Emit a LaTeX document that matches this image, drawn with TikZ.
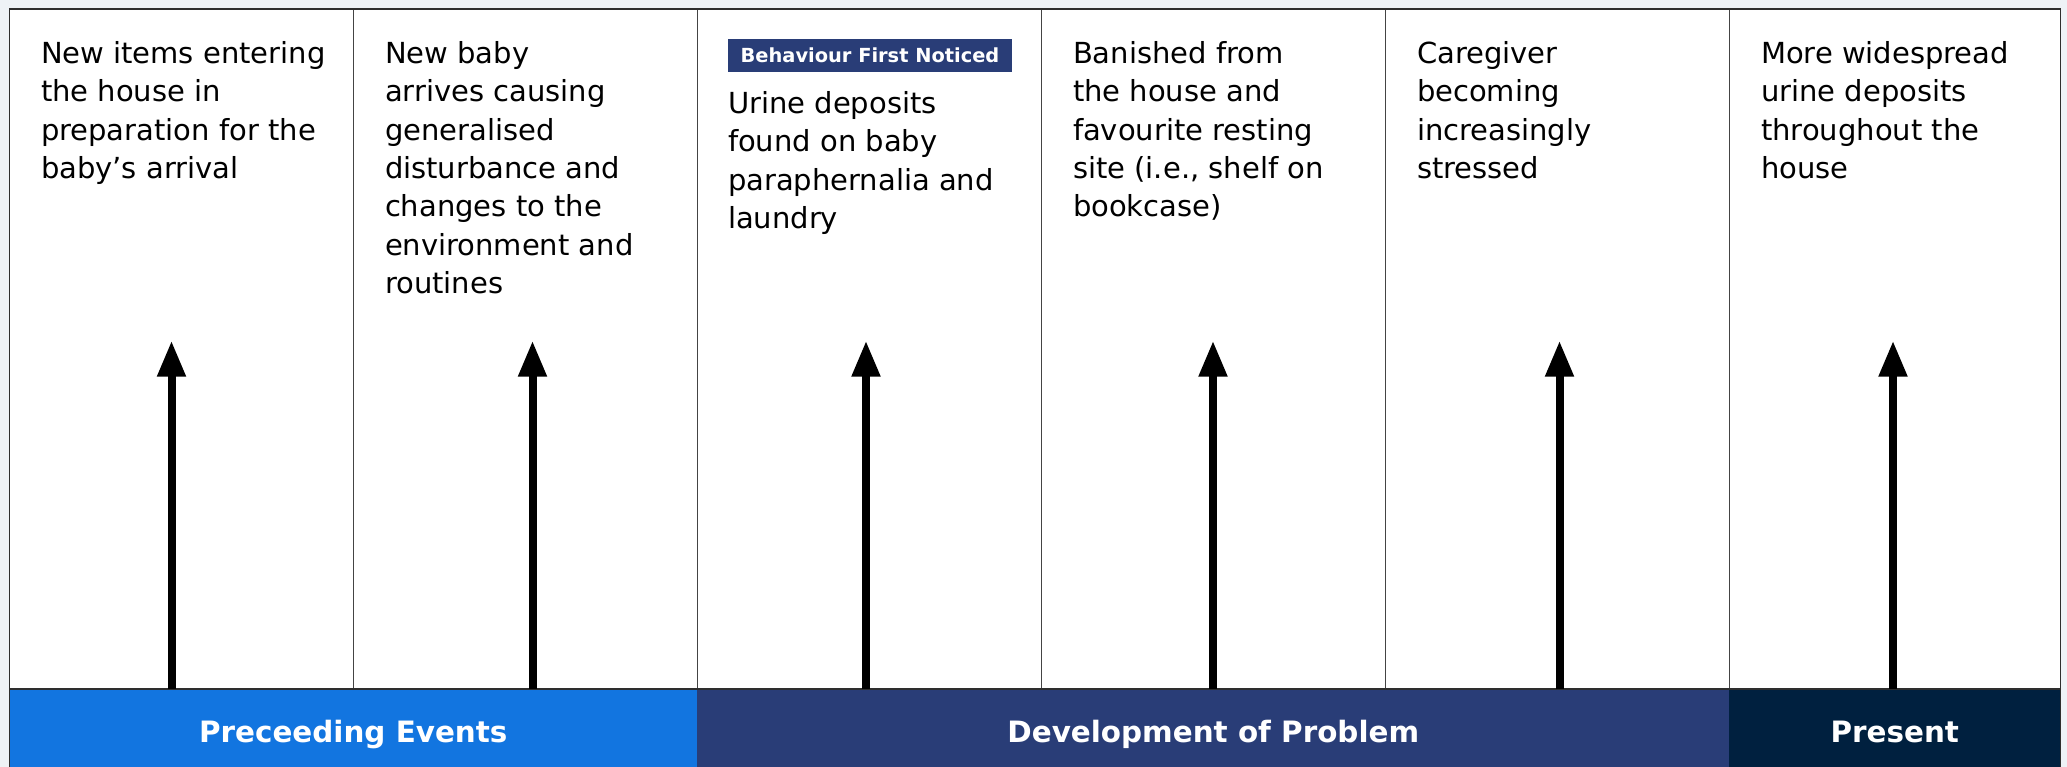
\documentclass[tikz,border=0pt]{standalone}
\usepackage{fontspec}
\setmainfont{DejaVu Sans}
\usepackage{tikz}
\usetikzlibrary{positioning,arrows.meta}
\definecolor{pageback}{HTML}{EEF2F6}
\definecolor{framegray}{HTML}{2E2E2E}
\definecolor{rulegray}{HTML}{444444}
\definecolor{eventblue}{HTML}{1275E0}
\definecolor{problemnavy}{HTML}{293D77}
\definecolor{presentdark}{HTML}{00203F}
\tikzset{
  colbox/.style={draw=rulegray, line width=1.2pt, fill=white,
    minimum width=344pt, minimum height=680pt, inner sep=0pt, outer sep=0pt},
  eventtext/.style={anchor=north west, inner sep=0pt, align=left,
    font=\fontsize{29}{38.3}\selectfont},
  phasebar/.style={anchor=north west, minimum height=78pt, inner sep=0pt, outer sep=0pt,
    text=white, text height=28.3pt, text depth=0pt,
    font=\fontsize{29.4}{36}\selectfont\bfseries},
  badge/.style={anchor=north west, fill=problemnavy, text=white,
    minimum width=284pt, minimum height=33pt, inner sep=0pt,
    font=\fontsize{19.4}{24}\selectfont\bfseries},
  uparrow/.style={line width=8pt, -{Triangle[length=36pt,width=27pt]}}
}

\begin{document}
\begin{tikzpicture}[x=1pt,y=-1pt]
    \fill[pageback] (0,0) rectangle (2067,767);
    \useasboundingbox (0,0) rectangle (2067,767);

    % Timeline columns
    \node[colbox, anchor=north west] (col1) at (9.3,9) {};
    \node[colbox, right=0pt of col1] (col2) {};
    \node[colbox, right=0pt of col2] (col3) {};
    \node[colbox, right=0pt of col3] (col4) {};
    \node[colbox, right=0pt of col4] (col5) {};
    \node[colbox, right=0pt of col5, minimum width=331pt] (col6) {};

    % Phase bars
    \node[phasebar, fill=eventblue, minimum width=688pt] (preceding) at (col1.south west) {Preceeding Events};
    \node[phasebar, fill=problemnavy, minimum width=1032pt] (development) at (col3.south west) {Development of Problem};
    \node[phasebar, fill=presentdark, minimum width=331pt] (present) at (col6.south west) {Present};

    \draw[framegray, line width=1.2pt] (col1.south west) -- (col6.south east);
    \draw[framegray, line width=1.5pt] (9.3,767) -- (col1.north west) -- (col6.north east) -- (2060.3,767);

    % Event texts
    \node[eventtext] (event1) at ([shift={(31.5,27.5)}]col1.north west)
        {\strut New items entering\\the house in\\preparation for the\\baby’s arrival};
    \node[eventtext] (event2) at ([shift={(31.5,27.5)}]col2.north west)
        {\strut New baby\\arrives causing\\generalised\\disturbance and\\changes to the\\environment and\\routines};
    \node[badge] (noticed) at ([shift={(30.5,30)}]col3.north west) {Behaviour First Noticed};
    \node[eventtext, below=14pt of noticed.south west, anchor=north west] (event3)
        {\strut Urine deposits\\found on baby\\paraphernalia and\\laundry};
    \node[eventtext] (event4) at ([shift={(31.5,27.5)}]col4.north west)
        {\strut Banished from\\the house and\\favourite resting\\site (i.e., shelf on\\bookcase)};
    \node[eventtext] (event5) at ([shift={(31.5,27.5)}]col5.north west)
        {\strut Caregiver\\becoming\\increasingly\\stressed};
    \node[eventtext] (event6) at ([shift={(31.5,27.5)}]col6.north west)
        {\strut More widespread\\urine deposits\\throughout the\\house};

    % Arrows
    \coordinate (tip1) at (171.5,340.7);
    \coordinate (tip2) at (532.5,340.7);
    \coordinate (tip3) at (866,340.7);
    \coordinate (tip4) at (1213,340.7);
    \coordinate (tip5) at (1559.5,340.7);
    \coordinate (tip6) at (1893,340.7);

    \draw[uparrow] (preceding.north -| tip1) -- (tip1);
    \draw[uparrow] (preceding.north -| tip2) -- (tip2);
    \draw[uparrow] (development.north -| tip3) -- (tip3);
    \draw[uparrow] (development.north -| tip4) -- (tip4);
    \draw[uparrow] (development.north -| tip5) -- (tip5);
    \draw[uparrow] (present.north -| tip6) -- (tip6);
\end{tikzpicture}
\end{document}
